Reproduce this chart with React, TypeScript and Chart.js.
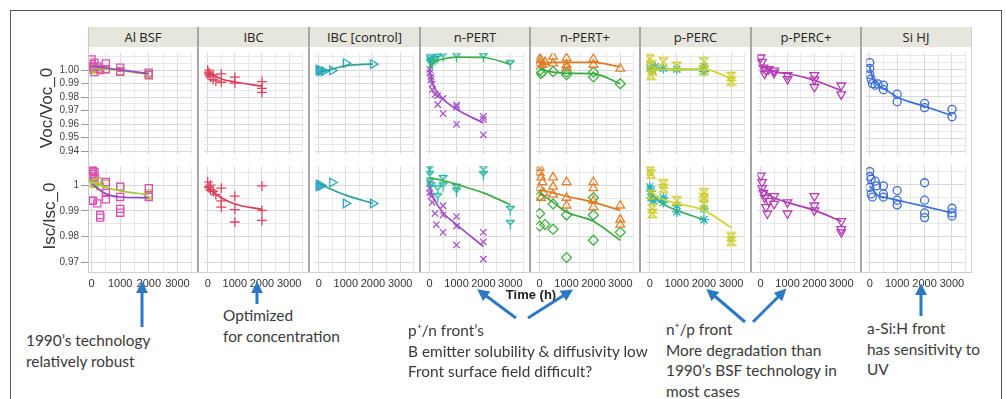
import React, { useEffect, useRef } from 'react';
import { Chart, registerables } from 'chart.js';
Chart.register(...registerables);

// ---------------- DATA ----------------
const panelNames = ['Al BSF', 'IBC', 'IBC [control]', 'n-PERT', 'n-PERT+', 'p-PERC', 'p-PERC+', 'Si HJ'];

const timeTickValues = [0, 1000, 2000, 3000];
const timeGrid = [0, 500, 1000, 1500, 2000, 2500, 3000, 3500];
const timeMin = -125;
const timeMax = 3500;

const vocTickValues = [0.94, 0.95, 0.96, 0.97, 0.98, 0.99, 1.0];
const vocTickLabels = ['0.94', '0.95', '0.96', '0.97', '0.98', '0.99', '1.00'];
const vocGrid = [0.94, 0.945, 0.95, 0.955, 0.96, 0.965, 0.97, 0.975, 0.98, 0.985, 0.99, 0.995, 1.0, 1.005, 1.01];
const vocMin = 0.938;
const vocMax = 1.0125;

const iscTickValues = [0.97, 0.98, 0.99, 1];
const iscTickLabels = ['0.97', '0.98', '0.99', '1'];
const iscGrid = [0.97, 0.975, 0.98, 0.985, 0.99, 0.995, 1.0, 1.005];
const iscMin = 0.9663;
const iscMax = 1.0073;

// Al BSF
const alVocPinkT = [0, 0, 50, 100, 100, 200, 300, 500, 500, 1000, 1000, 2000, 2000];
const alVocPinkV = [1.0079, 1.0045, 1.0025, 1.0055, 0.9985, 1.0028, 1.0005, 1.005, 1.0007, 1.0018, 0.9988, 0.9982, 0.9964];
const alVocLimeT = [0, 0, 50, 100, 200, 300, 500, 1000, 2000, 2000];
const alVocLimeV = [1.0015, 1.0005, 1.002, 1.0008, 1.0012, 0.9998, 1.0008, 0.9994, 0.9972, 0.9962];
const alVocPurpleFitT = [0, 500, 1000, 2000];
const alVocPurpleFitV = [1.0028, 1.0016, 1.0002, 0.9974];
const alVocLimeFitT = [0, 500, 1000, 2000];
const alVocLimeFitV = [1.0018, 1.001, 0.9998, 0.9968];
const alIscPinkT = [0, 0, 50, 100, 100, 0, 50, 200, 300, 300, 500, 500, 500, 1000, 1000, 1000, 1000, 2000, 2000];
const alIscPinkV = [1.0061, 1.0043, 1.0055, 1.003, 1.005, 0.9939, 0.994, 0.9929, 0.9884, 0.9874, 1.0012, 0.997, 0.9945, 0.9994, 0.9954, 0.9908, 0.9893, 0.9988, 0.9954];
const alIscLimeT = [0, 0, 50, 100, 200, 300, 500, 1000, 2000, 2000];
const alIscLimeV = [1.0025, 1.001, 1.003, 1.0005, 1.0015, 0.9995, 1.0005, 0.9993, 0.9968, 0.996];
const alIscLimeFitT = [0, 500, 1000, 2000];
const alIscLimeFitV = [1.0015, 0.9992, 0.9978, 0.9963];
const alIscPurpleFitT = [0, 500, 1000, 2000];
const alIscPurpleFitV = [1.0006, 0.9966, 0.9954, 0.9951];

// IBC
const ibcVocT = [0, 0, 0, 50, 100, 100, 200, 200, 300, 500, 500, 1000, 1000, 2000, 2000, 2000];
const ibcVocV = [1.0, 0.9985, 0.997, 0.9978, 0.9962, 0.995, 0.9965, 0.993, 0.992, 0.9972, 0.991, 0.9948, 0.9903, 0.9915, 0.9865, 0.9835];
const ibcVocFitT = [0, 500, 1000, 2000];
const ibcVocFitV = [0.9985, 0.9934, 0.9912, 0.988];
const ibcIscT = [0, 0, 50, 100, 100, 200, 300, 500, 500, 500, 1000, 1000, 1000, 2000, 2000, 2000];
const ibcIscV = [1.0012, 0.9994, 0.999, 0.9982, 1.0, 0.9976, 0.9963, 0.9988, 0.9939, 0.9915, 0.9957, 0.9905, 0.9857, 0.9997, 0.9902, 0.9863];
const ibcIscFitT = [0, 500, 1000, 2000];
const ibcIscFitV = [0.9988, 0.9951, 0.9927, 0.9906];

// IBC [control]
const ctlVocT = [0, 0, 50, 100, 200, 500, 1000, 2000];
const ctlVocV = [1.0005, 0.9996, 0.9998, 0.9994, 0.9992, 0.9998, 1.0052, 1.0045];
const ctlVocFitT = [0, 200, 500, 1000, 2000];
const ctlVocFitV = [0.9998, 0.9994, 1.0008, 1.0033, 1.0046];
const ctlIscT = [0, 0, 50, 100, 500, 1000, 2000];
const ctlIscV = [1.0003, 0.9994, 1.0, 0.9998, 1.001, 0.9929, 0.9929];
const ctlIscFitT = [0, 500, 1000, 2000];
const ctlIscFitV = [1.0006, 0.9982, 0.9961, 0.9929];

// n-PERT
const npVocTealT = [0, 0, 50, 100, 200, 300, 500, 1000, 2000, 3000];
const npVocTealV = [1.0083, 1.005, 1.0062, 1.004, 1.0072, 1.0088, 1.01, 1.0097, 1.0094, 1.004];
const npVocGreenFitT = [0, 100, 300, 500, 1000, 2000, 3000];
const npVocGreenFitV = [1.0018, 1.005, 1.0072, 1.0083, 1.0097, 1.0094, 1.0044];
const npVocPurpleT = [0, 0, 50, 50, 100, 100, 200, 300, 300, 500, 500, 1000, 1000, 1000, 2000, 2000, 2000];
const npVocPurpleV = [1.0005, 0.998, 0.995, 0.993, 0.9897, 0.9855, 0.982, 0.9745, 0.981, 0.979, 0.9678, 0.9743, 0.9728, 0.9598, 0.9656, 0.9635, 0.952];
const npVocPurpleFitT = [0, 100, 300, 500, 1000, 2000];
const npVocPurpleFitV = [1.0007, 0.9905, 0.9835, 0.9785, 0.971, 0.9608];
const npIscTealT = [0, 0, 0, 0, 50, 300, 300, 500, 500, 1000, 1000, 2000, 2000, 3000, 3000];
const npIscTealV = [1.007, 1.0061, 1.0037, 1.0012, 0.9994, 0.9982, 0.9951, 1.0022, 0.9994, 0.9988, 0.9973, 1.0059, 1.0037, 0.9902, 0.9847];
const npIscGreenFitT = [0, 500, 1000, 2000, 3000];
const npIscGreenFitV = [1.0027, 1.0018, 1.0003, 0.997, 0.9924];
const npIscPurpleT = [0, 0, 0, 50, 100, 200, 250, 500, 500, 500, 1000, 1000, 1000, 2000, 2000, 2000];
const npIscPurpleV = [1.0006, 0.9988, 0.997, 0.9957, 0.9933, 0.989, 0.9847, 0.992, 0.9884, 0.9817, 0.9878, 0.9841, 0.9768, 0.9817, 0.978, 0.9713];
const npIscPurpleFitT = [0, 200, 500, 1000, 2000];
const npIscPurpleFitV = [0.9988, 0.9939, 0.9893, 0.9847, 0.9762];

// n-PERT+
const nppVocOrangeT = [0, 0, 50, 100, 200, 500, 500, 1000, 1000, 1000, 2000, 2000, 3000];
const nppVocOrangeV = [1.0083, 1.005, 1.0075, 1.004, 1.006, 1.01, 1.005, 1.009, 1.004, 1.002, 1.0083, 1.004, 1.0012];
const nppVocOrangeFitT = [0, 500, 1000, 2000, 3000];
const nppVocOrangeFitV = [1.005, 1.0058, 1.0058, 1.0057, 1.0025];
const nppVocGreenT = [0, 50, 100, 500, 1000, 1000, 2000, 2000, 3000];
const nppVocGreenV = [0.9996, 0.9974, 0.9985, 0.999, 0.9985, 0.9965, 0.9985, 0.995, 0.9899];
const nppVocGreenFitT = [0, 500, 1000, 2000, 3000];
const nppVocGreenFitV = [1.0007, 0.9985, 0.9977, 0.9974, 0.9899];
const nppIscOrangeT = [0, 0, 50, 100, 0, 150, 50, 500, 500, 500, 1000, 1000, 1000, 2000, 2000, 2000, 2000, 3000, 3000, 3000];
const nppIscOrangeV = [1.0067, 1.0049, 1.003, 1.0012, 0.9988, 0.997, 0.9951, 1.003, 0.9994, 0.9963, 1.0012, 0.9951, 0.9921, 1.0012, 0.9988, 0.9939, 0.9915, 0.9921, 0.9866, 0.9847];
const nppIscOrangeFitT = [0, 500, 1000, 2000, 3000];
const nppIscOrangeFitV = [0.9982, 0.997, 0.9957, 0.9933, 0.9902];
const nppIscGreenT = [0, 0, 200, 0, 500, 500, 1000, 1000, 2000, 2000, 2000, 3000];
const nppIscGreenV = [0.9957, 0.989, 0.9847, 0.9841, 0.9829, 0.9927, 0.9884, 0.9719, 0.9951, 0.9884, 0.9786, 0.9817];
const nppIscGreenFitT = [0, 500, 1000, 2000, 3000];
const nppIscGreenFitV = [0.997, 0.9933, 0.9896, 0.986, 0.9786];

// p-PERC
const ppVocYellowT = [0, 50, 50, 100, 500, 1000, 2000, 2000, 3000, 3000];
const ppVocYellowV = [1.0083, 1.004, 0.9963, 0.9996, 1.0061, 1.0028, 1.0061, 0.9996, 0.9952, 0.9919];
const ppVocTealT = [0, 100, 200, 500, 1000, 2000, 2000];
const ppVocTealV = [1.0018, 1.0005, 1.0025, 1.0013, 1.0007, 1.0028, 0.999];
const ppVocYellowFitT = [0, 500, 1000, 2000, 3000];
const ppVocYellowFitV = [1.0003, 1.0005, 1.0005, 1.0005, 0.994];
const ppVocGreenFitT = [0, 500, 1000, 2000];
const ppVocGreenFitV = [1.0007, 1.0005, 1.0005, 1.0007];
const ppIscYellowT = [0, 50, 50, 100, 100, 500, 500, 1000, 2000, 2000, 2000, 3000, 3000];
const ppIscYellowV = [1.0055, 1.0043, 0.9963, 0.9908, 0.989, 0.9988, 1.0005, 0.9939, 0.997, 0.9951, 0.9927, 0.9799, 0.9783];
const ppIscTealT = [0, 50, 50, 150, 500, 500, 1000, 1000, 2000, 2000];
const ppIscTealV = [0.9994, 0.9976, 0.9951, 0.9939, 0.9933, 0.9951, 0.9921, 0.9896, 0.9908, 0.9866];
const ppIscYellowFitT = [0, 500, 1000, 2000, 3000];
const ppIscYellowFitV = [0.9976, 0.9945, 0.9929, 0.9902, 0.9835];
const ppIscGreenFitT = [0, 500, 1000, 2000];
const ppIscGreenFitV = [0.997, 0.9927, 0.9902, 0.9866];

// p-PERC+
const pppVocT = [0, 50, 100, 150, 200, 300, 500, 500, 1000, 1000, 2000, 2000, 2000, 3000, 3000];
const pppVocV = [1.0094, 1.0061, 1.0018, 0.9974, 1.0, 1.0007, 0.9996, 0.998, 0.9963, 0.9934, 0.9963, 0.993, 0.9875, 0.9886, 0.982];
const pppVocFitT = [0, 500, 1000, 2000, 3000];
const pppVocFitV = [1.0035, 0.9988, 0.9975, 0.9925, 0.9848];
const pppIscT = [0, 50, 50, 100, 150, 200, 250, 300, 500, 500, 1000, 1000, 2000, 2000, 2000, 3000, 3000, 3000];
const pppIscV = [1.0037, 1.0012, 0.9988, 0.997, 0.9951, 0.9915, 0.989, 0.9939, 0.9957, 0.9927, 0.9933, 0.989, 0.9957, 0.9921, 0.9902, 0.986, 0.9829, 0.9817];
const pppIscFitT = [0, 500, 1000, 2000, 3000];
const pppIscFitV = [0.9988, 0.9951, 0.9933, 0.9902, 0.986];

// Si HJ
const hjVocT = [0, 0, 0, 50, 100, 200, 300, 500, 500, 1000, 1000, 2000, 2000, 3000, 3000];
const hjVocV = [1.005, 1.0007, 0.9963, 0.993, 0.9897, 0.9886, 0.9895, 0.9886, 0.9853, 0.982, 0.9765, 0.9754, 0.9722, 0.971, 0.9656];
const hjVocFitT = [0, 100, 300, 500, 1000, 2000, 3000];
const hjVocFitV = [1.0018, 0.9941, 0.9886, 0.9864, 0.98, 0.9732, 0.9665];
const hjIscT = [0, 0, 50, 0, 50, 100, 200, 250, 500, 500, 500, 1000, 1000, 1000, 2000, 2000, 2000, 2000, 3000, 3000, 3000];
const hjIscV = [1.0049, 1.003, 1.002, 0.9988, 0.9963, 0.9951, 1.0012, 0.9994, 0.9994, 0.9963, 0.9951, 0.9976, 0.9939, 0.9921, 1.0006, 0.9939, 0.989, 0.9872, 0.9908, 0.989, 0.9878];
const hjIscFitT = [0, 300, 500, 1000, 2000, 3000];
const hjIscFitV = [0.9994, 0.9957, 0.9951, 0.9939, 0.9915, 0.989];

// ---------------- STYLES ----------------
type MarkerStyle = { color: string; shape: string; radius: number; rotation?: number };
const markerStyles: Record<string, MarkerStyle> = {
  alPink: { color: '#dc50b4', shape: 'rect', radius: 5 },
  alLime: { color: '#a6c63a', shape: 'rect', radius: 5 },
  ibcRed: { color: '#e0465e', shape: 'cross', radius: 5 },
  ctlTeal: { color: '#30a8cc', shape: 'triangle', radius: 5, rotation: 90 },
  npTeal: { color: '#24b4a0', shape: 'Y', radius: 5 },
  npPurple: { color: '#a854cc', shape: 'crossRot', radius: 4.5 },
  nppOrange: { color: '#e3802a', shape: 'triangle', radius: 5 },
  nppGreen: { color: '#44b048', shape: 'rectRot', radius: 5 },
  ppYellow: { color: '#cccc28', shape: 'hourglass', radius: 5 },
  ppTeal: { color: '#26b0b8', shape: 'star', radius: 5 },
  pppMag: { color: '#b83cb8', shape: 'triangle', radius: 5, rotation: 180 },
  hjBlue: { color: '#3c6cd8', shape: 'circle', radius: 4 },
};
const lineColors: Record<string, string> = {
  alPurple: '#9b44c4', alLime: '#a5c832', ibc: '#d93b55', ctl: '#2ea58e',
  npGreen: '#3fae4a', npPurple: '#9f4cc6', nppOrange: '#dd7a22', nppGreen: '#3aaa3e',
  ppYellow: '#d4d42c', ppGreen: '#3cae6e', ppp: '#ac3cb4', hj: '#3a6fd6',
};

type S = { t: number[]; v: number[]; style: string };
type PanelSpec = { voc: S[]; vocFit: S[]; isc: S[]; iscFit: S[] };

const panels: PanelSpec[] = [
  {
    voc: [{ t: alVocPinkT, v: alVocPinkV, style: 'alPink' }, { t: alVocLimeT, v: alVocLimeV, style: 'alLime' }],
    vocFit: [{ t: alVocPurpleFitT, v: alVocPurpleFitV, style: 'alPurple' }, { t: alVocLimeFitT, v: alVocLimeFitV, style: 'alLime' }],
    isc: [{ t: alIscPinkT, v: alIscPinkV, style: 'alPink' }, { t: alIscLimeT, v: alIscLimeV, style: 'alLime' }],
    iscFit: [{ t: alIscLimeFitT, v: alIscLimeFitV, style: 'alLime' }, { t: alIscPurpleFitT, v: alIscPurpleFitV, style: 'alPurple' }],
  },
  {
    voc: [{ t: ibcVocT, v: ibcVocV, style: 'ibcRed' }],
    vocFit: [{ t: ibcVocFitT, v: ibcVocFitV, style: 'ibc' }],
    isc: [{ t: ibcIscT, v: ibcIscV, style: 'ibcRed' }],
    iscFit: [{ t: ibcIscFitT, v: ibcIscFitV, style: 'ibc' }],
  },
  {
    voc: [{ t: ctlVocT, v: ctlVocV, style: 'ctlTeal' }],
    vocFit: [{ t: ctlVocFitT, v: ctlVocFitV, style: 'ctl' }],
    isc: [{ t: ctlIscT, v: ctlIscV, style: 'ctlTeal' }],
    iscFit: [{ t: ctlIscFitT, v: ctlIscFitV, style: 'ctl' }],
  },
  {
    voc: [{ t: npVocTealT, v: npVocTealV, style: 'npTeal' }, { t: npVocPurpleT, v: npVocPurpleV, style: 'npPurple' }],
    vocFit: [{ t: npVocGreenFitT, v: npVocGreenFitV, style: 'npGreen' }, { t: npVocPurpleFitT, v: npVocPurpleFitV, style: 'npPurple' }],
    isc: [{ t: npIscTealT, v: npIscTealV, style: 'npTeal' }, { t: npIscPurpleT, v: npIscPurpleV, style: 'npPurple' }],
    iscFit: [{ t: npIscGreenFitT, v: npIscGreenFitV, style: 'npGreen' }, { t: npIscPurpleFitT, v: npIscPurpleFitV, style: 'npPurple' }],
  },
  {
    voc: [{ t: nppVocOrangeT, v: nppVocOrangeV, style: 'nppOrange' }, { t: nppVocGreenT, v: nppVocGreenV, style: 'nppGreen' }],
    vocFit: [{ t: nppVocOrangeFitT, v: nppVocOrangeFitV, style: 'nppOrange' }, { t: nppVocGreenFitT, v: nppVocGreenFitV, style: 'nppGreen' }],
    isc: [{ t: nppIscOrangeT, v: nppIscOrangeV, style: 'nppOrange' }, { t: nppIscGreenT, v: nppIscGreenV, style: 'nppGreen' }],
    iscFit: [{ t: nppIscOrangeFitT, v: nppIscOrangeFitV, style: 'nppOrange' }, { t: nppIscGreenFitT, v: nppIscGreenFitV, style: 'nppGreen' }],
  },
  {
    voc: [{ t: ppVocYellowT, v: ppVocYellowV, style: 'ppYellow' }, { t: ppVocTealT, v: ppVocTealV, style: 'ppTeal' }],
    vocFit: [{ t: ppVocYellowFitT, v: ppVocYellowFitV, style: 'ppYellow' }, { t: ppVocGreenFitT, v: ppVocGreenFitV, style: 'ppGreen' }],
    isc: [{ t: ppIscYellowT, v: ppIscYellowV, style: 'ppYellow' }, { t: ppIscTealT, v: ppIscTealV, style: 'ppTeal' }],
    iscFit: [{ t: ppIscYellowFitT, v: ppIscYellowFitV, style: 'ppYellow' }, { t: ppIscGreenFitT, v: ppIscGreenFitV, style: 'ppGreen' }],
  },
  {
    voc: [{ t: pppVocT, v: pppVocV, style: 'pppMag' }],
    vocFit: [{ t: pppVocFitT, v: pppVocFitV, style: 'ppp' }],
    isc: [{ t: pppIscT, v: pppIscV, style: 'pppMag' }],
    iscFit: [{ t: pppIscFitT, v: pppIscFitV, style: 'ppp' }],
  },
  {
    voc: [{ t: hjVocT, v: hjVocV, style: 'hjBlue' }],
    vocFit: [{ t: hjVocFitT, v: hjVocFitV, style: 'hj' }],
    isc: [{ t: hjIscT, v: hjIscV, style: 'hjBlue' }],
    iscFit: [{ t: hjIscFitT, v: hjIscFitV, style: 'hj' }],
  },
];

// ---------------- LAYOUT ----------------
const panelEdges = [88, 198, 309, 420, 530, 640, 751, 861, 971];
const HEADER_TOP = 27;
const HEADER_H = 20;
const VOC_TOP = 47;
const VOC_H = 113;
const ISC_TOP = 160;
const ISC_H = 112;
const Y_AXIS_W = 70;
const X_AXIS_H = 26;
const AXIS_FONT = "'Liberation Sans', Arial, sans-serif";
const NOTE_FONT = "Lato, 'Open Sans', sans-serif";

const markerCache: Record<string, HTMLCanvasElement> = {};
function makeMarker(shape: string, color: string): HTMLCanvasElement {
  const key = shape + color;
  if (markerCache[key]) return markerCache[key];
  const c = document.createElement('canvas');
  c.width = 11;
  c.height = 11;
  const g = c.getContext('2d')!;
  g.strokeStyle = color;
  g.lineWidth = 1.3;
  g.beginPath();
  if (shape === 'Y') {
    g.moveTo(1.5, 1.5);
    g.lineTo(5.5, 5.5);
    g.lineTo(9.5, 1.5);
    g.moveTo(5.5, 5.5);
    g.lineTo(5.5, 10.5);
    g.moveTo(1, 1.5);
    g.lineTo(10, 1.5);
  } else {
    g.moveTo(1.5, 1.5);
    g.lineTo(9.5, 1.5);
    g.lineTo(1.5, 9.5);
    g.lineTo(9.5, 9.5);
    g.closePath();
  }
  g.stroke();
  markerCache[key] = c;
  return c;
}

function findLabel(values: number[], labels: string[], v: number): string {
  const i = values.findIndex((t) => Math.abs(t - v) < 1e-7);
  return i >= 0 ? labels[i] : '';
}

function PanelChart({ col, metric }: { col: number; metric: 'voc' | 'isc' }) {
  const ref = useRef<HTMLCanvasElement>(null);
  const first = col === 0;
  const bottom = metric === 'isc';
  const yw = first ? Y_AXIS_W : 0;
  const left = panelEdges[col] - yw;
  const width = panelEdges[col + 1] - panelEdges[col] + yw;
  const top = bottom ? ISC_TOP : VOC_TOP;
  const height = (bottom ? ISC_H : VOC_H) + (bottom ? X_AXIS_H : 0);

  useEffect(() => {
    const spec = panels[col];
    const pts = bottom ? spec.isc : spec.voc;
    const fits = bottom ? spec.iscFit : spec.vocFit;
    const datasets: any[] = [];
    fits.forEach((f) => {
      datasets.push({
        data: f.t.map((x, i) => ({ x, y: f.v[i] })),
        showLine: true,
        borderColor: lineColors[f.style],
        borderWidth: 1.7,
        pointRadius: 0,
        cubicInterpolationMode: 'monotone',
        fill: false,
        order: 0,
      });
    });
    pts.forEach((s) => {
      const st = markerStyles[s.style];
      const custom = st.shape === 'Y' || st.shape === 'hourglass';
      datasets.push({
        data: s.t.map((x, i) => ({ x, y: s.v[i] })),
        showLine: false,
        pointStyle: custom ? makeMarker(st.shape, st.color) : st.shape,
        pointRadius: st.radius,
        pointRotation: st.rotation || 0,
        borderColor: st.color,
        backgroundColor: 'rgba(0,0,0,0)',
        pointBorderWidth: 1.3,
        order: 1,
      });
    });
    const yGrid = bottom ? iscGrid : vocGrid;
    const yVals = bottom ? iscTickValues : vocTickValues;
    const yLabels = bottom ? iscTickLabels : vocTickLabels;
    const chart = new Chart(ref.current!, {
      type: 'scatter',
      data: { datasets },
      options: {
        animation: false,
        responsive: false,
        maintainAspectRatio: false,
        devicePixelRatio: 1,
        layout: { padding: 0 },
        plugins: { legend: { display: false }, tooltip: { enabled: false }, title: { display: false } },
        scales: {
          x: {
            type: 'linear',
            min: timeMin,
            max: timeMax,
            afterBuildTicks: (s: any) => {
              s.ticks = timeGrid.map((value) => ({ value }));
            },
            afterFit: (s: any) => {
              s.height = bottom ? X_AXIS_H : 0;
              s.paddingLeft = 0;
              s.paddingRight = 0;
            },
            ticks: {
              display: bottom,
              autoSkip: false,
              maxRotation: 0,
              padding: 5,
              color: '#333',
              font: { size: 11, family: AXIS_FONT },
              callback: (v: any) => (timeTickValues.includes(Number(v)) ? String(v) : ''),
            },
            grid: {
              drawTicks: false,
              color: (ctx: any) => (ctx.tick && ctx.tick.value % 1000 === 0 ? '#d8d8d8' : '#e8e8e8'),
              lineWidth: 1,
            },
            border: { display: false },
          },
          y: {
            type: 'linear',
            min: bottom ? iscMin : vocMin,
            max: bottom ? iscMax : vocMax,
            afterBuildTicks: (s: any) => {
              s.ticks = yGrid.map((value) => ({ value }));
            },
            afterFit: (s: any) => {
              s.width = yw;
              s.paddingTop = 0;
              s.paddingBottom = 0;
            },
            ticks: {
              display: first,
              autoSkip: false,
              padding: 2,
              color: '#444',
              font: { size: 10, family: AXIS_FONT },
              callback: (v: any) => findLabel(yVals, yLabels, Number(v)),
            },
            grid: {
              drawTicks: first,
              tickLength: 7,
              tickColor: (ctx: any) => (ctx.tick && findLabel(yVals, yLabels, ctx.tick.value) ? '#999' : 'rgba(0,0,0,0)'),
              color: (ctx: any) => (ctx.tick && findLabel(yVals, yLabels, ctx.tick.value) ? '#d8d8d8' : '#e8e8e8'),
              lineWidth: 1,
            },
            border: { display: false },
          },
        },
      } as any,
    });
    return () => chart.destroy();
  }, []);

  return (
    <canvas
      ref={ref}
      width={width}
      height={height}
      style={{ position: 'absolute', left, top, width, height }}
    />
  );
}

// annotation layout
const arrows = [
  [142, 327, 142, 286],
  [257, 304, 257, 286],
  [516, 318, 481, 292],
  [528, 318, 569, 292],
  [745, 322, 710, 292],
  [753, 322, 783, 292],
  [921, 316, 921, 288],
];

const notes = [
  { x: 26, y: 330, lines: ['1990’s technology', 'relatively robust'] },
  { x: 223, y: 305, lines: ['Optimized', 'for concentration'] },
  { x: 408, y: 320, lines: ['p⁺/n front’s', 'B emitter solubility & diffusivity low', 'Front surface field difficult?'] },
  { x: 666, y: 319, lines: ['n⁺/p front', 'More degradation than', '1990’s BSF technology in', 'most cases'] },
  { x: 867, y: 318, lines: ['a-Si:H front', 'has sensitivity to', 'UV'] },
];

export default function App() {
  const cols = panelNames.map((_, i) => i);
  return (
    <div
      style={{
        position: 'absolute',
        left: 0,
        top: 0,
        width: 1006,
        height: 399,
        overflow: 'hidden',
        background: '#fff',
      }}
    >
      <div
        style={{
          position: 'absolute',
          left: 10,
          top: 10,
          width: 992,
          height: 430,
          boxSizing: 'border-box',
          border: '1.5px solid #555',
        }}
      />
      {cols.map((c) => (
        <div
          key={'h' + c}
          style={{
            position: 'absolute',
            left: panelEdges[c],
            top: HEADER_TOP,
            width: panelEdges[c + 1] - panelEdges[c],
            height: HEADER_H,
            background: '#e6e6dd',
            color: '#222',
            font: "13px 'Open Sans', sans-serif",
            lineHeight: HEADER_H + 'px',
            textAlign: 'center',
            whiteSpace: 'nowrap',
          }}
        >
          {panelNames[c]}
        </div>
      ))}
      {cols.map((c) => (
        <PanelChart key={'v' + c} col={c} metric="voc" />
      ))}
      {cols.map((c) => (
        <PanelChart key={'i' + c} col={c} metric="isc" />
      ))}
      {/* panel borders */}
      <div style={{ position: 'absolute', left: panelEdges[0], top: HEADER_TOP, width: 1, height: ISC_TOP + ISC_H - HEADER_TOP, background: '#c8c8c8' }} />
      {cols.slice(1).map((c) => (
        <div
          key={'d' + c}
          style={{ position: 'absolute', left: panelEdges[c] - 1, top: HEADER_TOP, width: 2, height: ISC_TOP + ISC_H - HEADER_TOP, background: '#a6a6a6' }}
        />
      ))}
      <div style={{ position: 'absolute', left: panelEdges[8], top: HEADER_TOP, width: 1, height: ISC_TOP + ISC_H - HEADER_TOP, background: '#d0d0d0' }} />
      <div style={{ position: 'absolute', left: panelEdges[0], top: ISC_TOP + ISC_H, width: panelEdges[8] - panelEdges[0] + 1, height: 1, background: '#d0d0d0' }} />
      {/* axis titles */}
      <div
        style={{
          position: 'absolute', left: 47 - 60, top: 108 - 10, width: 120, height: 20, lineHeight: '20px',
          textAlign: 'center', transform: 'rotate(-90deg)', font: `17px ${AXIS_FONT}`, color: '#333',
        }}
      >
        Voc/Voc_0
      </div>
      <div
        style={{
          position: 'absolute', left: 50 - 60, top: 216 - 10, width: 120, height: 20, lineHeight: '20px',
          textAlign: 'center', transform: 'rotate(-90deg)', font: `17px ${AXIS_FONT}`, color: '#333',
        }}
      >
        Isc/Isc_0
      </div>
      <div
        style={{
          position: 'absolute', left: 531 - 50, top: 296 - 9, width: 100, height: 18, lineHeight: '18px',
          textAlign: 'center', font: `600 13px ${AXIS_FONT}`, color: '#222',
        }}
      >
        Time (h)
      </div>
      {notes.map((n, i) => (
        <div
          key={'n' + i}
          style={{
            position: 'absolute', left: n.x, top: n.y, font: `15.4px ${NOTE_FONT}`, lineHeight: '20.5px',
            color: '#3a3a3a', whiteSpace: 'nowrap',
          }}
        >
          {n.lines.map((l, j) => (
            <div key={j}>{l}</div>
          ))}
        </div>
      ))}
      <svg width={1006} height={399} style={{ position: 'absolute', left: 0, top: 0, pointerEvents: 'none' }}>
        <defs>
          <marker id="ah" viewBox="0 0 10 10" refX="6" refY="5" markerWidth="4" markerHeight="4" orient="auto">
            <path d="M0,0 L10,5 L0,10 z" fill="#2b78c6" />
          </marker>
        </defs>
        {arrows.map((a, i) => (
          <line key={i} x1={a[0]} y1={a[1]} x2={a[2]} y2={a[3]} stroke="#2b78c6" strokeWidth={3} markerEnd="url(#ah)" />
        ))}
      </svg>
    </div>
  );
}
